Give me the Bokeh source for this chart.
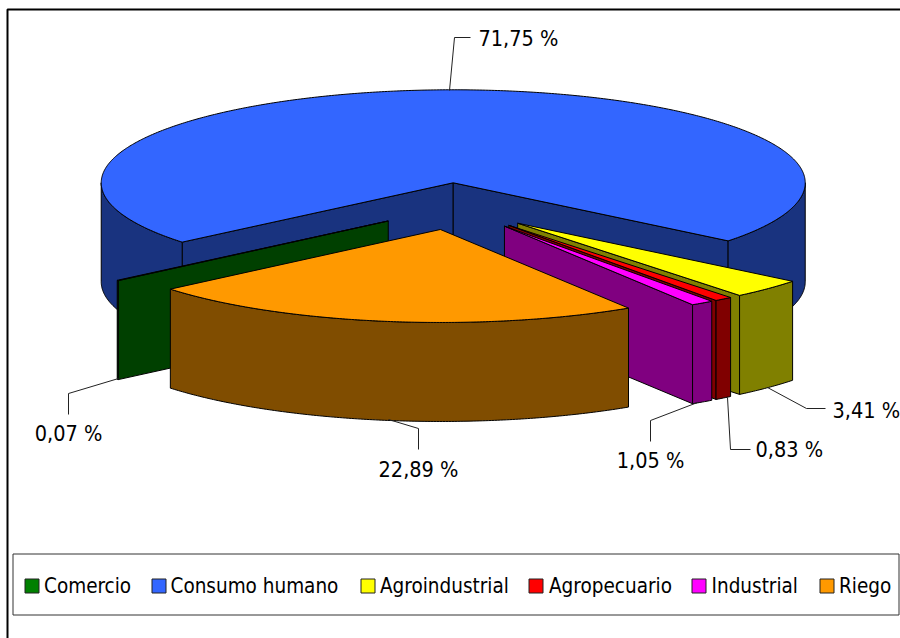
import math
from bokeh.embed import file_html
from bokeh.models import Range1d
from bokeh.plotting import figure
from bokeh.resources import INLINE
from bokeh.core.properties import value

# ---- data ----
categories = ["Comercio", "Consumo humano", "Agroindustrial", "Agropecuario", "Industrial", "Riego"]
shares = [0.07, 71.75, 3.41, 0.83, 1.05, 22.89]
share_labels = ["0,07 %", "71,75 %", "3,41 %", "0,83 %", "1,05 %", "22,89 %"]
top_colors = ["#008000", "#3366FF", "#FFFF00", "#FF0000", "#FF00FF", "#FF9900"]
wall_colors = ["#004000", "#19337F", "#808000", "#800000", "#800080", "#804D00"]

# ---- layout ----
W, H = 900, 638
CX, CY = 453.5, 206.0
RX, RY = 352.0, 93.0
DEPTH = 99.0
explode = [0.243, 0.255, 0.255, 0.255, 0.255, 0.25]
FIRST_ANGLE = 230.1
FONT = "DejaVu Sans Condensed"
LABEL_SIZE = "21.5px"
LEGEND_SIZE = "20.5px"

# leader lines: (points), label anchor x, y, align
leaders = [
    ([(118, 378), (68, 393), (68, 414)], 68, 433, "center"),
    ([(449, 90), (454, 37), (470, 37)], 478, 38, "left"),
    ([(767, 387), (806, 408), (825, 408)], 832, 410, "left"),
    ([(727, 397), (730, 449), (750, 449)], 755, 449, "left"),
    ([(697, 402), (650, 420), (650, 441)], 650, 460, "center"),
    ([(388, 419), (418, 428), (418, 449)], 418, 469, "center"),
]
legend_swatch_x = [24.5, 151.5, 360.5, 528.5, 691.5, 819.5]
legend_text_x = [43.5, 170, 379.5, 548.5, 711, 838.5]

p = figure(width=W, height=H, output_backend="svg", toolbar_location=None,
           x_range=Range1d(0, W), y_range=Range1d(H, 0),
           x_axis_type=None, y_axis_type=None, min_border=0,
           outline_line_color=None, margin=(0, 0, 0, 0))
p.grid.visible = False
p.background_fill_color = "white"
p.border_fill_color = "white"

# outer frame (right and bottom run off the picture)
p.line([7, 7, W + 10], [H + 10, 9, 9], line_color="black", line_width=2)


def pt(ox, oy, a):
    r = math.radians(a)
    return ox + RX * math.sin(r), oy - RY * math.cos(r)


def arc(ox, oy, a0, a1):
    n = max(2, int(abs(a1 - a0) * 2) + 2)
    return [pt(ox, oy, a0 + (a1 - a0) * i / (n - 1)) for i in range(n)]


def poly(points):
    return [q[0] for q in points], [q[1] for q in points]


slices = []
angle = FIRST_ANGLE
for share, top, wall, ex in zip(shares, top_colors, wall_colors, explode):
    sweep = share * 3.6
    mid = math.radians(angle + sweep / 2)
    ox = CX + ex * RX * math.sin(mid)
    oy = CY - ex * RY * math.cos(mid)
    slices.append(dict(a0=angle, a1=angle + sweep, ox=ox, oy=oy, top=top, wall=wall))
    angle += sweep

xs, ys, fills = [], [], []


def add(points, color):
    x, y = poly(points)
    xs.append(x)
    ys.append(y)
    fills.append(color)


for s in sorted(slices, key=lambda d: d["oy"]):
    a0, a1, ox, oy = s["a0"], s["a1"], s["ox"], s["oy"]
    for a, visible in ((a0, math.sin(math.radians(a0)) < 0), (a1, math.sin(math.radians(a1)) > 0)):
        if visible:
            rim = pt(ox, oy, a)
            add([(ox, oy), rim, (rim[0], rim[1] + DEPTH), (ox, oy + DEPTH)], s["wall"])
    for lo, hi in ((90, 270), (450, 630)):
        b0, b1 = max(a0, lo), min(a1, hi)
        if b0 < b1:
            front = arc(ox, oy, b0, b1)
            add(front + [(x, y + DEPTH) for x, y in reversed(front)], s["wall"])
    add([(ox, oy)] + arc(ox, oy, a0, a1), s["top"])

p.patches(xs, ys, fill_color=fills, line_color="black", line_width=1, line_join="miter")

# leader lines and value labels
for (pts, tx, ty, align), label in zip(leaders, share_labels):
    lx, ly = poly(pts)
    p.line(lx, ly, line_color="#222222", line_width=1)
    p.text([tx], [ty], text=[label], text_font=value(FONT), text_font_size=LABEL_SIZE,
           text_color="black", text_align=align, text_baseline="middle")

# legend
p.quad(left=[12.5], right=[898.5], top=[553.5], bottom=[614.5], fill_color="white",
       line_color="#333333", line_width=1)
p.quad(left=legend_swatch_x, right=[x + 14 for x in legend_swatch_x],
       top=[578.5] * 6, bottom=[592.5] * 6, fill_color=top_colors, line_color="#222222", line_width=1)
p.text(legend_text_x, [585.5] * 6, text=categories, text_font=value(FONT), text_font_size=LEGEND_SIZE,
       text_color="black", text_align="left", text_baseline="middle")

open("out.html", "w").write(file_html(p, INLINE))
